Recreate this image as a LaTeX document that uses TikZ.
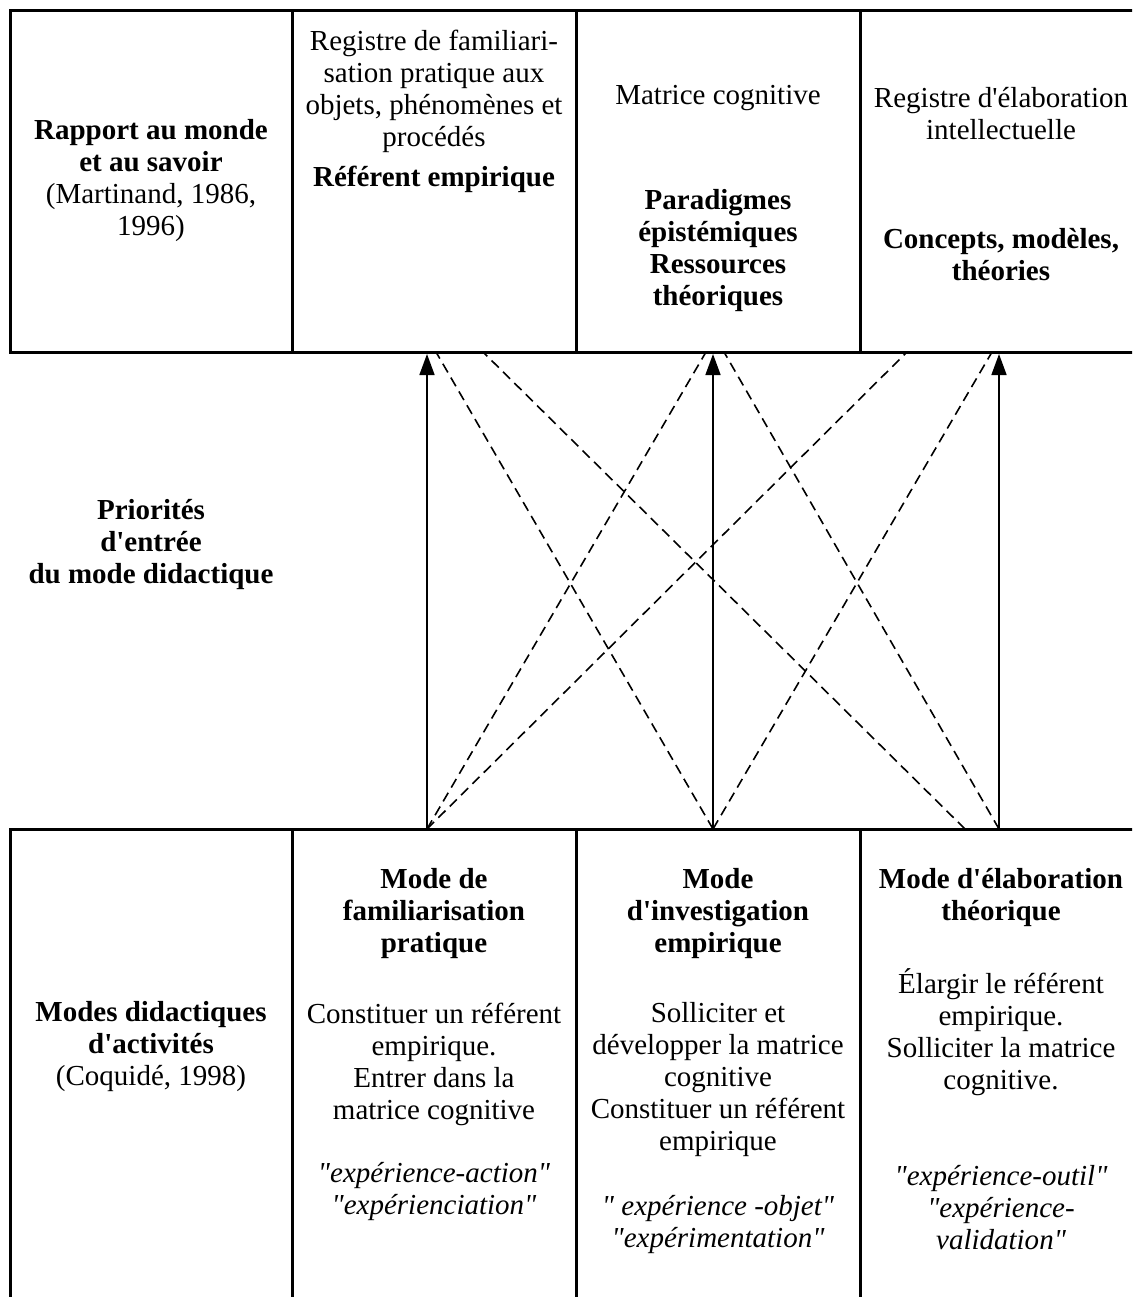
\documentclass[tikz,border=0pt]{standalone}
\usepackage{fontspec}
\setmainfont{Liberation Serif}[Ligatures={TeXOff,CommonOff}]
\usetikzlibrary{arrows.meta}
\newcommand\cellfont{\fontsize{29}{32}\selectfont}
\tikzset{
  cell/.style={ % plain text of a table cell
    align=center, inner sep=0pt, font=\cellfont
  },
  head/.style={ % bold title in a cell
    cell, font=\cellfont\bfseries
  },
  citation/.style={ % italic kind of experiment
    cell, font=\cellfont\itshape
  },
  tableline/.style={
    line width=3pt
  },
  prio/.style={ % entry priority of a didactic mode
    line width=1.6pt, -{Triangle[length=21pt,width=15pt]}
  },
  cross/.style={ % secondary links
    line width=1.6pt, dash pattern=on 10pt off 6pt
  }
}
\begin{document}
\begin{tikzpicture}[x=1pt, y=-1pt]
  \clip (0,0) rectangle (1132,1297);

  % the two tables
  \draw[tableline] (10,11) rectangle (1150,352);
  \draw[tableline] (10,1310) -- (10,829) -- (1150,829);
  \foreach \x in {292,576,860}
    \draw[tableline] (\x,11) -- (\x,352) (\x,829) -- (\x,1310);

  % upper row
  \node[cell] (rapport) at (151,181) {\textbf{Rapport au monde}\\\textbf{et au savoir}\\(Martinand, 1986,\\1996)};
  \node[cell] (regfam) at (434,91) {Registre de familiari-\\sation pratique aux\\objets, phénomènes et\\procédés};
  \node[head] (refemp) at (434,179) {Référent empirique};
  \node[cell] (matrice) at (718,98) {Matrice cognitive};
  \node[head] (paradig) at (718,251) {Paradigmes\\épistémiques\\Ressources\\théoriques};
  \node[cell] (regelab) at (1001,114) {Registre d'élaboration\\intellectuelle};
  \node[head] (concepts) at (1001,255) {Concepts, modèles,\\théories};

  % middle
  \node[head] (priorites) at (151,545) {Priorités\\d'entrée\\du mode didactique};

  % lower row
  \node[cell] (modes) at (151,1047) {\textbf{Modes didactiques}\\\textbf{d'activités}\\(Coquidé, 1998)};
  \node[head] (famhead) at (434,914) {Mode de\\familiarisation\\pratique};
  \node[cell] (fambody) at (434,1064) {Constituer un référent\\empirique.\\Entrer dans la\\matrice cognitive};
  \node[citation] (famcit) at (434,1191) {"expérience-action"\\"expérienciation"};
  \node[head] (invhead) at (718,914) {Mode\\d'investigation\\empirique};
  \node[cell] (invbody) at (718,1080) {Solliciter et\\développer la matrice\\cognitive\\Constituer un référent\\empirique};
  \node[citation] (invcit) at (718,1224) {" expérience -objet"\\"expérimentation"};
  \node[head] (elabhead) at (1001,898) {Mode d'élaboration\\théorique};
  \node[cell] (elabbody) at (1001,1032) {Élargir le référent\\empirique.\\Solliciter la matrice\\cognitive.};
  \node[citation] (elabcit) at (1001,1208) {"expérience-outil"\\"expérience-\\validation"};

  % arrow ends
  \coordinate (famT) at (427,354);
  \coordinate (famB) at (427,829);
  \coordinate (invT) at (713,354);
  \coordinate (invB) at (713,829);
  \coordinate (elabT) at (999,354);
  \coordinate (elabB) at (999,829);
  \coordinate (d1T) at (436,352);
  \coordinate (d2T) at (483,352);
  \coordinate (d3T) at (706,352);
  \coordinate (d4T) at (724,352);
  \coordinate (d5T) at (907,352);
  \coordinate (d6T) at (992,352);
  \coordinate (d5B) at (965,829);

  \draw[prio] (famB) -- (famT);
  \draw[prio] (invB) -- (invT);
  \draw[prio] (elabB) -- (elabT);

  \draw[cross] (famB) -- (d3T);
  \draw[cross] (famB) -- (d5T);
  \draw[cross] (invB) -- (d1T);
  \draw[cross] (invB) -- (d6T);
  \draw[cross] (d5B) -- (d2T);
  \draw[cross] (elabB) -- (d4T);
\end{tikzpicture}
\end{document}
